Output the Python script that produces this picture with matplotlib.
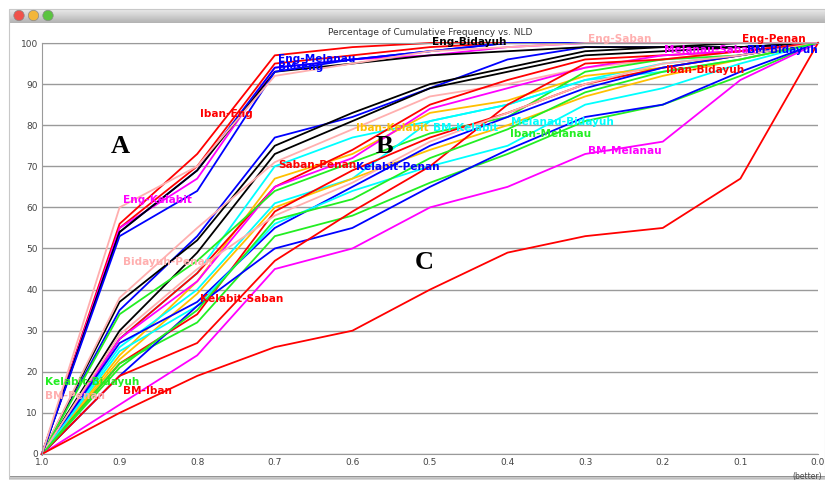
import numpy as np
import matplotlib
matplotlib.use("Agg")
import matplotlib.pyplot as plt
from matplotlib.patches import Circle, Rectangle

# NLD thresholds (x axis runs from 1.0 down to 0.0)
nld = [1.0, 0.9, 0.8, 0.7, 0.6, 0.5, 0.4, 0.3, 0.2, 0.1, 0.0]

# cumulative frequency (%) per language pair
eng_pairs = ["Iban-Eng", "Eng-Penan", "Eng-Kelabit", "BM-Eng", "Eng-Bidayuh", "Eng-Melanau", "Eng-Saban"]
eng_colors = ["red", "red", "magenta", "blue", "black", "blue", "pink"]
eng_values = [
    [0, 56, 73, 97, 99, 100, 100, 100, 100, 100, 100],
    [0, 55, 70, 95, 97, 99, 100, 100, 100, 100, 100],
    [0, 55, 67, 94, 96, 97, 99, 100, 100, 100, 100],
    [0, 54, 69, 94, 96, 98, 100, 100, 100, 100, 100],
    [0, 54, 69, 93, 95, 97, 98, 99, 99, 100, 100],
    [0, 53, 64, 93, 96, 98, 100, 100, 100, 100, 100],
    [0, 60, 70, 92, 95, 98, 99, 100, 100, 100, 100],
]

local_pairs = ["BM-Bidayuh", "Bidayuh-Saban", "Kelabit-Melanau", "Bidayuh-Penan", "Melanau-Penan",
               "Iban-Kelabit", "Iban-Bidayuh", "Melanau-Saban", "Kelabit-Bidayuh", "BM-Kelabit",
               "Iban-Saban", "Saban-Penan", "Kelabit-Penan", "Melanau-Bidayuh", "Iban-Melanau",
               "Iban-Penan", "Kelabit-Saban", "BM-Melanau", "BM-Penan", "BM-Saban"]
local_colors = ["blue", "black", "black", "pink", "cyan",
                "orange", "red", "magenta", "green", "cyan",
                "orange", "red", "blue", "cyan", "green",
                "blue", "red", "magenta", "pink", "green"]
local_values = [
    [0, 35, 53, 77, 82, 89, 96, 99, 99, 99, 100],
    [0, 37, 52, 75, 83, 90, 94, 98, 99, 99, 100],
    [0, 30, 49, 73, 81, 89, 93, 97, 98, 99, 100],
    [0, 38, 55, 71, 79, 87, 90, 94, 96, 98, 100],
    [0, 28, 44, 70, 77, 81, 85, 91, 95, 97, 100],
    [0, 24, 42, 67, 73, 83, 86, 92, 94, 97, 100],
    [0, 28, 44, 65, 74, 85, 91, 96, 97, 98, 100],
    [0, 28, 42, 65, 72, 84, 89, 94, 97, 98, 100],
    [0, 34, 47, 64, 71, 78, 82, 93, 96, 97, 100],
    [0, 26, 40, 61, 67, 81, 85, 91, 93, 96, 100],
    [0, 23, 39, 60, 67, 74, 80, 87, 92, 96, 100],
    [0, 22, 34, 59, 69, 77, 83, 90, 94, 97, 100],
    [0, 27, 37, 55, 65, 75, 82, 89, 94, 97, 100],
    [0, 25, 36, 56, 64, 70, 75, 85, 89, 95, 100],
    [0, 22, 32, 53, 58, 66, 73, 81, 85, 92, 100],
    [0, 19, 36, 50, 55, 65, 74, 82, 85, 93, 100],
    [0, 19, 27, 47, 59, 70, 85, 95, 96, 98, 100],
    [0, 12, 24, 45, 50, 60, 65, 73, 76, 91, 100],
    [0, 29, 45, 58, 66, 76, 83, 90, 95, 97, 100],
    [0, 21, 35, 57, 62, 72, 79, 88, 93, 96, 100],
]

bm_iban = [0, 10, 19, 26, 30, 40, 49, 53, 55, 67, 100]

# java-style colours
palette = {"red": "#ff0000", "blue": "#0000ff", "green": "#22ee22", "orange": "#ffc000",
           "magenta": "#ff00ff", "cyan": "#00ffff", "pink": "#ffafaf", "black": "#000000"}

# where each pair's name is written
label_at = {
    "Eng-Bidayuh": (0.497, 100.2), "Eng-Saban": (0.296, 101.0), "Eng-Penan": (0.098, 101.0),
    "Eng-Melanau": (0.696, 96.0), "BM-Eng": (0.696, 94.1), "Melanau-Saban": (0.198, 98.3),
    "BM-Bidayuh": (0.091, 98.3), "Iban-Bidayuh": (0.196, 93.4), "Iban-Eng": (0.796, 82.7),
    "Iban-Kelabit": (0.595, 79.3), "BM-Kelabit": (0.496, 79.3), "Melanau-Bidayuh": (0.395, 80.8),
    "Iban-Melanau": (0.397, 77.9), "Saban-Penan": (0.696, 70.3), "Kelabit-Penan": (0.595, 69.8),
    "BM-Melanau": (0.296, 73.7), "Eng-Kelabit": (0.896, 61.8), "Bidayuh-Penan": (0.896, 46.7),
    "Kelabit-Saban": (0.796, 37.7), "Kelabit-Bidayuh": (0.996, 17.5), "BM-Penan": (0.996, 14.1),
    "BM-Iban": (0.896, 15.3),
}

fig = plt.figure(figsize=(8.25, 4.8), dpi=100)

# window frame drawn in pixel units
bg = fig.add_axes([0, 0, 1, 1])
bg.set_xlim(0, 825)
bg.set_ylim(480, 0)
bg.axis("off")
grad = np.linspace(0.92, 0.70, 30).reshape(-1, 1)
bg.imshow(grad, extent=[9, 825, 23, 9], aspect="auto", cmap="gray", vmin=0, vmax=1)
bg.add_patch(Rectangle((9, 9), 816, 468, fill=False, ec="#c8c8c8", lw=0.8))
shadow = np.linspace(0.55, 0.95, 8).reshape(-1, 1)
bg.imshow(shadow, extent=[9, 825, 481, 476], aspect="auto", cmap="gray", vmin=0, vmax=1)
for cx, col in zip([19, 33.5, 48], ["#f0524a", "#f2b63a", "#5bc440"]):
    bg.add_patch(Circle((cx, 15.5), 5.2, fc=col, ec="#8a8a8a", lw=0.5))

ax = fig.add_axes([0.0509, 0.0542, 0.9406, 0.8562])
ax.set_xlim(1.0, 0.0)
ax.set_ylim(0, 100)

for name, col, vals in zip(local_pairs, local_colors, local_values):
    ax.plot(nld, vals, color=palette[col], lw=1.3, clip_on=False, zorder=2)
for name, col, vals in zip(eng_pairs, eng_colors, eng_values):
    ax.plot(nld, vals, color=palette[col], lw=1.3, clip_on=False, zorder=2)
ax.plot(nld, bm_iban, color=palette["red"], lw=1.3, clip_on=False, zorder=2)

colour_of = dict(zip(eng_pairs + local_pairs + ["BM-Iban"],
                     eng_colors + local_colors + ["red"]))
for name, (lx, ly) in label_at.items():
    ax.text(lx, ly, name, color=palette[colour_of[name]], fontsize=7.6, fontweight="bold",
            ha="left", va="center", zorder=5, clip_on=False)

for letter, lx, ly in [("A", 0.912, 74.7), ("B", 0.57, 74.7), ("C", 0.519, 46.5)]:
    ax.text(lx, ly, letter, fontsize=19, fontweight="bold", family="Liberation Serif",
            ha="left", va="center", zorder=6)

ax.set_xticks(nld)
ax.set_xticklabels(["%.1f" % v for v in nld])
ax.set_yticks(range(0, 101, 10))
ax.tick_params(length=0, labelsize=6.5, labelcolor="#444444", pad=3)
ax.grid(axis="y", color="#9a9a9a", lw=1.0, zorder=1)
ax.grid(axis="x", visible=False)
for side in ["left", "bottom", "top"]:
    ax.spines[side].set_color("#9a9a9a")
ax.spines["right"].set_visible(False)

ax.annotate("(better)", xy=(0.0, 0), xytext=(3, -16), textcoords="offset points",
            ha="right", va="center", fontsize=5.5, color="#444444", annotation_clip=False)
ax.set_title("Percentage of Cumulative Frequency vs. NLD", fontsize=6.5, color="#333333", pad=6)

fig.savefig("out.png", dpi=100)
